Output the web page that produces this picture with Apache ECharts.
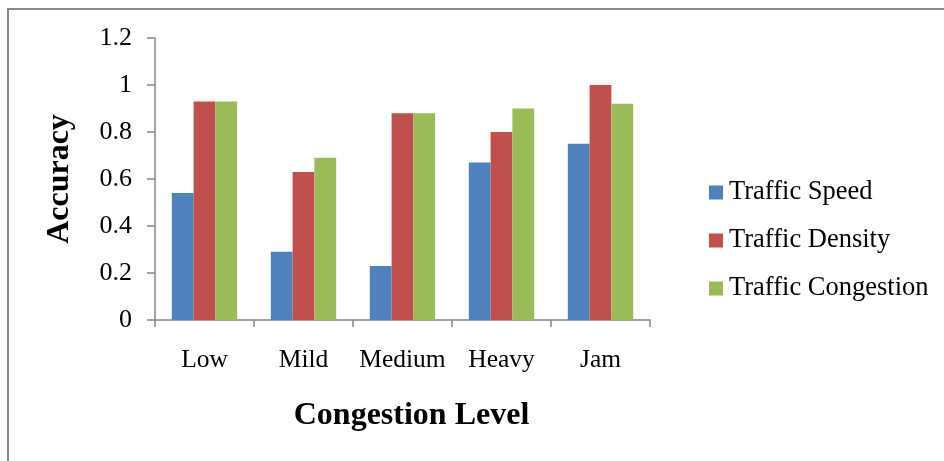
<!DOCTYPE html>
<html>
<head>
<meta charset="utf-8">
<script src="https://cdn.jsdelivr.net/npm/echarts@6/dist/echarts.min.js"></script>
<style>
html,body{margin:0;padding:0;background:#fff;}
#chart{width:944px;height:461px;}
</style>
</head>
<body>
<div id="chart"></div>
<script>
var categories = ['Low', 'Mild', 'Medium', 'Heavy', 'Jam'];
var trafficSpeed = [0.54, 0.29, 0.23, 0.67, 0.75];
var trafficDensity = [0.93, 0.63, 0.88, 0.80, 1.00];
var trafficCongestion = [0.93, 0.69, 0.88, 0.90, 0.92];
var seriesNames = ['Traffic Speed', 'Traffic Density', 'Traffic Congestion'];
var yTicks = [0, 0.2, 0.4, 0.6, 0.8, 1, 1.2];

var FONT = '"Liberation Serif", "Times New Roman", serif';
var AXIS = '#868686';

var chart = echarts.init(document.getElementById('chart'), null, {renderer: 'canvas'});
chart.setOption({
  animation: false,
  backgroundColor: '#fff',
  color: ['#4F81BD', '#C0504D', '#9BBB59'],
  graphic: [{
    type: 'rect',
    shape: {x: 8, y: 9, width: 960, height: 480},
    style: {fill: 'none', stroke: '#888', lineWidth: 2},
    silent: true
  }],
  grid: {left: 155, right: 294, top: 38, bottom: 141},
  legend: {
    orient: 'vertical',
    left: 709,
    top: 179,
    padding: 0,
    itemWidth: 14,
    itemHeight: 14,
    itemGap: 21,
    icon: 'rect',
    data: seriesNames,
    textStyle: {fontFamily: FONT, fontSize: 26.5, color: '#000', padding: [0, 0, 0, 1]}
  },
  xAxis: {
    type: 'category',
    data: categories,
    name: 'Congestion Level',
    nameLocation: 'middle',
    nameGap: 80,
    nameTextStyle: {fontFamily: FONT, fontSize: 32, fontWeight: 'bold', color: '#000', padding: [0, 0, 0, 18]},
    axisLine: {lineStyle: {color: AXIS, width: 1.5}},
    axisTick: {show: true, length: 7, lineStyle: {color: AXIS, width: 1.5}},
    axisLabel: {fontFamily: FONT, fontSize: 25.5, color: '#000', margin: 27, interval: 0}
  },
  yAxis: {
    type: 'value',
    min: 0,
    max: 1.2,
    interval: 0.2,
    name: 'Accuracy',
    nameLocation: 'middle',
    nameGap: 79,
    nameTextStyle: {fontFamily: FONT, fontSize: 32, fontWeight: 'bold', color: '#000'},
    splitLine: {show: false},
    axisLine: {show: true, lineStyle: {color: AXIS, width: 1.5}},
    axisTick: {show: true, length: 8, lineStyle: {color: AXIS, width: 1.5}},
    axisLabel: {
      fontFamily: FONT, fontSize: 26, color: '#000', margin: 23,
      formatter: function (v) {
        for (var i = 0; i < yTicks.length; i++) {
          if (Math.abs(yTicks[i] - v) < 1e-9) return String(yTicks[i]);
        }
        return '';
      }
    }
  },
  series: [
    {name: seriesNames[0], type: 'bar', data: trafficSpeed, barGap: '0%', barCategoryGap: '34%'},
    {name: seriesNames[1], type: 'bar', data: trafficDensity, barGap: '0%', barCategoryGap: '34%'},
    {name: seriesNames[2], type: 'bar', data: trafficCongestion, barGap: '0%', barCategoryGap: '34%'}
  ]
});
</script>
</body>
</html>
